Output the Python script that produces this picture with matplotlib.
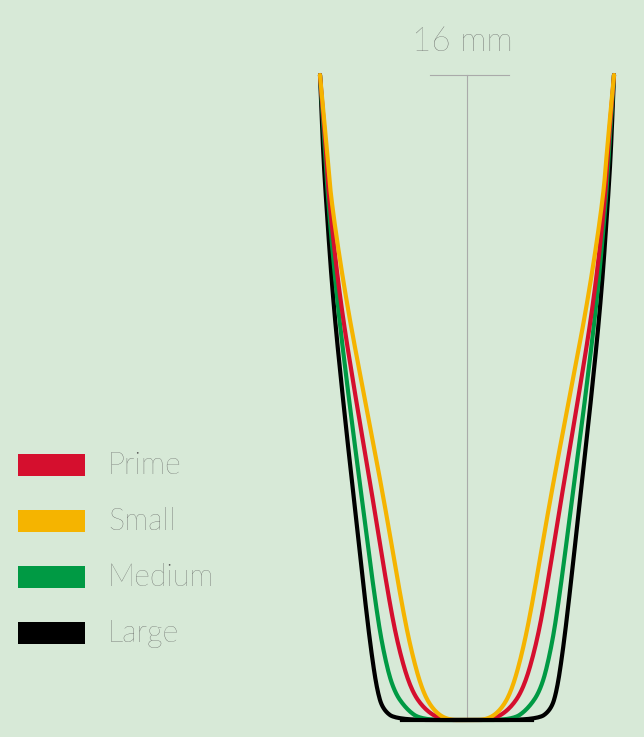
import matplotlib.pyplot as plt
import numpy as np
from matplotlib.patches import Rectangle

# Profiles: depth (px from top) and half-width (px from centre line)
depth = [75, 150, 200, 300, 400, 500, 600, 650, 690, 710, 720]
large = [147, 144, 141, 134, 124, 113, 102, 96, 90, 84, 70]
medium = [147, 142, 139, 130, 118, 105, 92, 84, 74, 60, 45]
prime = [147, 141, 138, 127, 111, 94, 78, 68, 56, 42, 25]
small = [147, 140, 136, 121, 102, 83, 66, 56, 45, 34, 20]

names = ["Prime", "Small", "Medium", "Large"]
colors = ["#d50f2e", "#f5b400", "#009a44", "#000000"]
profiles = [prime, small, medium, large]

CX = 467
BG = "#d7e9d7"
TXT = "#555555"
plt.rcParams["font.family"] = ["Lato", "DejaVu Sans"]


def chaikin(x, y, n=4):
    pts = np.column_stack([x, y])
    for _ in range(n):
        q = 0.75 * pts[:-1] + 0.25 * pts[1:]
        r = 0.25 * pts[:-1] + 0.75 * pts[1:]
        new = np.empty((2 * len(q), 2))
        new[0::2], new[1::2] = q, r
        pts = np.vstack([pts[0], new, pts[-1]])
    return pts[:, 0], pts[:, 1]


fig = plt.figure(figsize=(6.44, 7.37), dpi=100, facecolor=BG)
ax = fig.add_axes([0, 0, 1, 1], facecolor=BG)
ax.set_xlim(0, 644)
ax.set_ylim(737, 0)
ax.axis("off")

# scale bar
ax.plot([CX, CX], [75, 720], color="#aaaaaa", lw=0.8, zorder=1)
ax.plot([430, 509], [75, 75], color="#aaaaaa", lw=0.8, zorder=1)
ax.text(462, 42, "16 mm", ha="center", va="center", fontsize=24,
        color=TXT, fontweight="light")

order = [3, 2, 0, 1]
for z, i in enumerate(order):
    hw = np.array(profiles[i], float)
    d = np.array(depth, float)
    xs = np.concatenate([CX - hw, [CX], (CX + hw)[::-1]])
    ys = np.concatenate([d, [d[-1]], d[::-1]])
    sx, sy = chaikin(xs, ys)
    ax.plot(sx, sy, color=colors[i], lw=3, solid_capstyle="round", zorder=2 + z)
ax.plot([CX - large[-1] + 5, CX + large[-1] - 5], [720, 720], color="black", lw=3, zorder=10)

for k, (n, c) in enumerate(zip(names, colors)):
    yc = 465 + 56 * k
    ax.add_patch(Rectangle((18, yc - 11), 67, 22, color=c, lw=0))
    ax.text(108, yc, n, ha="left", va="center", fontsize=22, color=TXT,
            fontweight="light")

fig.savefig("out.png", dpi=100, facecolor=BG)
